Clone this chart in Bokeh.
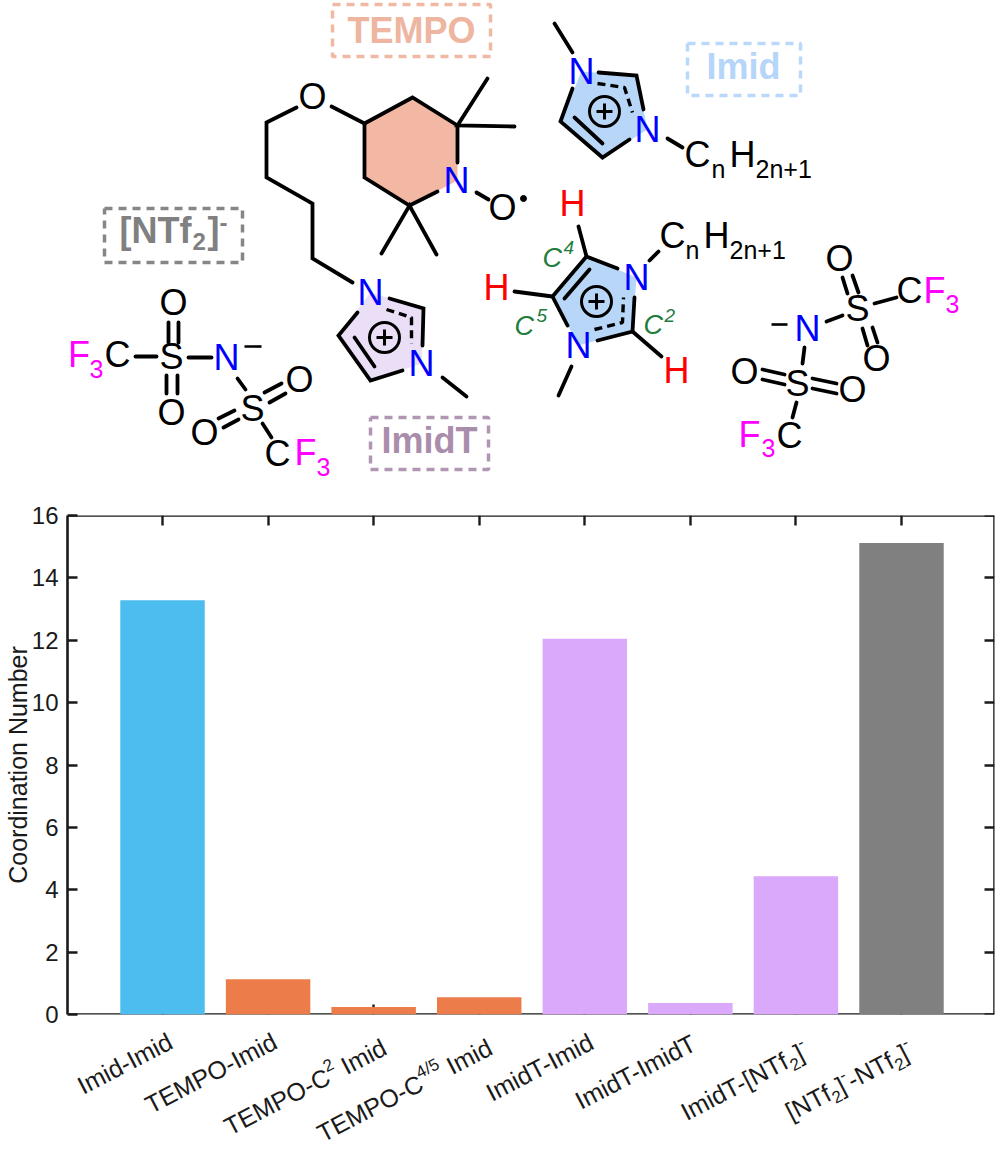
import math
from bokeh.embed import file_html
from bokeh.resources import INLINE
from bokeh.plotting import figure
from bokeh.layouts import column
from bokeh.models import LinearAxis, FixedTicker, Range1d
from bokeh.core.properties import value

# ---------- data ----------
categories = ["Imid-Imid", "TEMPO-Imid", "TEMPO-C2 Imid", "TEMPO-C4/5 Imid",
              "ImidT-Imid", "ImidT-ImidT", "ImidT-[NTf2]-", "[NTf2]--NTf2]-"]
coordination = [13.28, 1.13, 0.24, 0.55, 12.05, 0.37, 4.43, 15.12]
bar_colors = ["#4dbdf0", "#ec7c4a", "#ec7c4a", "#ec7c4a", "#dba9fb", "#dba9fb", "#dba9fb", "#808080"]
y_ticks = [0, 2, 4, 6, 8, 10, 12, 14, 16]
# rich tick labels: (text, kind) kind n=normal, u=superscript, d=subscript
rich_labels = [
    [("Imid-Imid", "n")],
    [("TEMPO-Imid", "n")],
    [("TEMPO-C", "n"), ("2", "u"), ("\u00a0Imid", "n")],
    [("TEMPO-C", "n"), ("4/5", "u"), ("\u00a0Imid", "n")],
    [("ImidT-Imid", "n")],
    [("ImidT-ImidT", "n")],
    [("ImidT-[NTf", "n"), ("2", "d"), ("]", "n"), ("-", "u")],
    [("[NTf", "n"), ("2", "d"), ("]", "n"), ("-", "u"), ("-NTf", "n"), ("2", "d"), ("]", "n"), ("-", "u")],
]
label_dx = [12, 11, 15, 15, 12, 9, 15, 14]
label_end_y = [1047, 1047, 1053, 1053, 1047, 1048, 1056, 1056]

FONT = "Liberation Sans"
H_TOP = 503
FRAME_W = 927
LEFT = 60
RIGHT = 5
FRAME_IMG_LEFT = 68
X_RANGE = (0.1, 8.881)

# ---------- structures panel (image pixel coordinates) ----------
top = figure(frame_width=FRAME_W, frame_height=H_TOP, x_range=Range1d(FRAME_IMG_LEFT, FRAME_IMG_LEFT + FRAME_W),
             y_range=Range1d(H_TOP, 0),
             output_backend="svg", toolbar_location=None, min_border=0, min_border_left=LEFT, min_border_right=RIGHT)
top.axis.visible = False
top.grid.visible = False
top.outline_line_color = None

fills = [
    ("#f3b8a4", [(365,123),(413,97),(458,125),(458,180),(410,205),(365,177)]),
    ("#eadff7", [(371,292),(424,308),(422,363),(371,380),(339,335)]),
    ("#b8d7f8", [(582,71),(637,75),(648,129),(603,157),(561,121)]),
    ("#b8d7f8", [(587,256),(637,277),(633,330),(579,345),(553,296)]),
]
for c, pts in fills:
    top.patch([a for a, _ in pts], [b for _, b in pts], fill_color=c, line_color=None)

# dashed label boxes
boxes = [
    (333, 491, 4, 56, "#efb9a4"),
    (105, 243, 208, 262, "#868686"),
    (371, 489, 417, 469, "#b096b2"),
    (688, 801, 43, 95, "#b9d8fa"),
]
for x0, x1, y0, y1, c in boxes:
    top.line([x0, x1, x1, x0, x0], [y0, y0, y1, y1, y0], line_color=c, line_width=3.5, line_dash="8 6")

bonds = [
    # TEMPO ring and chain
    [(458,162),(458,125),(413,97),(365,123),(365,177),(410,205),(438,191)],
    [(488,78),(458,125),(515,126)], [(382,253),(410,205),(437,254)],
    [(477,192),(489,199)],
    [(365,123),(332,106)],
    [(297,107),(267,122),(267,177),(313,203),(313,258),(353,282)],
    # ImidT ring
    [(390,298),(424,308),(423,345)],
    [(403,370),(371,380),(339,335),(358,312)],
    [(355,337),(375,366)],
    [(443,377),(467,396)],
    # left NTf2
    [(136,356),(157,356)], [(189,357),(212,357)],
    [(169,322),(169,342)], [(179,322),(179,342)],
    [(167,375),(167,393)], [(178,375),(178,393)],
    [(238,378),(246,389)],
    [(265,392),(282,383)], [(270,402),(286,393)],
    [(219,418),(235,410)], [(224,427),(239,419)],
    [(263,423),(272,437)],
    # upper Imid
    [(555,23),(573,52)],
    [(599,72),(637,75),(644,109)],
    [(630,139),(603,157),(561,121),(573,88)],
    [(575,117),(603,143)],
    [(668,138),(683,147)],
    # lower Imid
    [(579,226),(587,256),(618,268)],
    [(587,256),(553,296),(568,325)],
    [(565,298),(590,269)],
    [(598,340),(633,331),(635,297)],
    [(515,291),(553,296)],
    [(633,331),(662,356)],
    [(650,260),(659,251)],
    [(572,366),(559,395)],
    # right NTf2
    [(827,321),(843,315)], [(875,303),(897,297)],
    [(843,277),(848,293)], [(853,275),(859,292)],
    [(863,328),(868,345)], [(873,327),(878,342)],
    [(805,347),(803,363)],
    [(763,369),(785,374)], [(763,379),(785,384)],
    [(813,378),(837,383)], [(813,388),(837,393)],
    [(797,402),(793,417)],
]
top.multi_line([[a for a, _ in b] for b in bonds], [[v for _, v in b] for b in bonds],
               line_color="black", line_width=3.8, line_cap="round", line_join="miter")
thin = [[(245,346),(262,346)], [(772,324),(788,324)]]
top.multi_line([[a for a, _ in b] for b in thin], [[v for _, v in b] for b in thin],
               line_color="black", line_width=2.6)
dashed = [
    [(387,309),(412,317),(412,343)],
    [(598,83),(625,87),(633,112)],
    [(595,329),(623,322),(624,297)],
]
top.multi_line([[a for a, _ in b] for b in dashed], [[v for _, v in b] for b in dashed],
               line_color="black", line_width=3.4, line_dash="8 5")

# charge circles
for cx, cy in [(385,337), (605,111), (597,301)]:
    top.circle([cx], [cy], radius=15, radius_units="screen", fill_color=None, line_color="black", line_width=3)
    top.multi_line([[cx-8, cx+8], [cx, cx]], [[cy, cy], [cy-8, cy+8]], line_color="black", line_width=3)
top.scatter([524], [198], size=6, color="black")


def put(items, size, color, style="normal", align="center"):
    # items are given as text baselines; drawn through the vertical middle of the capitals
    top.text([i[0] for i in items], [i[1] - 0.36 * size for i in items], text=[i[2] for i in items],
             text_font=value(FONT), text_font_size=f"{size}px", text_color=color,
             text_font_style=style, text_align=align, text_baseline="middle")


def atoms(items, color, size=36):
    put([(x, y + 13, t) for x, y, t in items], size, color)


BLUE, RED, MAG, GREEN = "#0000ff", "#ff0000", "#ff00ff", "#1e7d3c"
atoms([(457,180,"N"), (371,292,"N"), (422,363,"N"), (227,357,"N"), (582,71,"N"),
       (648,129,"N"), (637,277,"N"), (579,345,"N"), (808,328,"N")], BLUE)
atoms([(313,96,"O"), (503,207,"O"), (174,302,"O"), (172,412,"O"), (300,379,"O"), (205,432,"O"),
       (840,258,"O"), (877,358,"O"), (745,371,"O"), (853,389,"O"),
       (172,356,"S"), (253,408,"S"), (858,308,"S"), (798,383,"S"),
       (118,354,"C"), (278,453,"C"), (790,435,"C"), (910,290,"C")], "black")
atoms([(573,203,"H"), (497,287,"H"), (677,370,"H")], RED)

put([(68.5,367,"F"), (295,465,"F"), (739,447,"F"), (924,303,"F")], 36, MAG, align="left")
put([(90,377,"3"), (317,475,"3"), (762,456,"3"), (946,312,"3")], 25, MAG, align="left")

put([(685,167,"C"), (730,167,"H"), (660,248,"C"), (704,248,"H")], 36, "black", align="left")
put([(712,177,"n"), (686,258,"n"), (756,177,"2n+1"), (730,258,"2n+1")], 25, "black", align="left")

put([(543,267,"C"), (515,335,"C"), (644,334,"C")], 27, GREEN, "italic", "left")
put([(564,254,"4"), (537,322,"5"), (665,322,"2")], 19, GREEN, "italic", "left")

put([(412,43,"TEMPO")], 36, "#eeb5a0", "bold")
put([(430,453,"ImidT")], 36, "#a98dab", "bold")
put([(744,79,"Imid")], 36, "#b5d5f9", "bold")
put([(120,243,"[NTf")], 36, "#808080", "bold", "left")
put([(193,250,"2")], 24, "#808080", "bold", "left")
put([(208,243,"]")], 36, "#808080", "bold", "left")
put([(220,231,"-")], 24, "#808080", "bold", "left")

# ---------- bar chart ----------
p = figure(frame_width=FRAME_W, frame_height=499, x_range=Range1d(*X_RANGE), y_range=Range1d(0, 16),
           output_backend="svg", toolbar_location=None,
           min_border_left=LEFT, min_border_right=RIGHT, min_border_top=12, min_border_bottom=13)
p.grid.visible = False
p.outline_line_color = None
xs = list(range(1, len(coordination) + 1))
p.vbar(x=xs, top=coordination, bottom=0, width=0.8, fill_color=bar_colors, line_color=None)

AX = "#1a1a1a"


def style(ax, ticks, labels=False):
    ax.ticker = FixedTicker(ticks=ticks)
    ax.axis_line_color = AX
    ax.axis_line_width = 2.6
    ax.major_tick_line_color = AX
    ax.major_tick_line_width = 2.4
    ax.major_tick_in = 10
    ax.major_tick_out = 0
    ax.minor_tick_line_color = None
    if not labels:
        ax.level = "underlay"
        ax.major_label_overrides = {t: "" for t in ticks}
        ax.major_label_standoff = 0


style(p.xaxis[0], xs)
style(p.yaxis[0], y_ticks, labels=True)
p.yaxis[0].major_label_text_font = FONT
p.yaxis[0].major_label_text_font_size = "24px"
p.yaxis[0].major_label_text_color = "#1a1a1a"
p.yaxis[0].major_label_standoff = 9
p.yaxis[0].axis_label = "Coordination Number"
p.yaxis[0].axis_label_text_font = FONT
p.yaxis[0].axis_label_text_font_style = "normal"
p.yaxis[0].axis_label_text_font_size = "25px"
p.yaxis[0].axis_label_text_color = "#1a1a1a"
p.yaxis[0].axis_label_standoff = -3

ra = LinearAxis(); style(ra, y_ticks); p.add_layout(ra, "right")
ta = LinearAxis(); style(ta, xs); p.add_layout(ta, "above")

# ---------- rich rotated tick labels, on the chart's own x scale ----------
LAB_TOP, LAB_BOTTOM = 1027, 1154
lab = figure(frame_width=FRAME_W, frame_height=LAB_BOTTOM - LAB_TOP, x_range=p.x_range,
             y_range=Range1d(LAB_BOTTOM, LAB_TOP), output_backend="svg", toolbar_location=None,
             min_border=0, min_border_left=LEFT, min_border_right=RIGHT)
lab.axis.visible = False
lab.grid.visible = False
lab.outline_line_color = None

AW = dict(zip("IimdTEMPOCNf[]-24/5\u00a0", [.278,.222,.833,.556,.611,.667,.833,.667,.778,.722,.722,.278,.278,.278,.333,.556,.556,.278,.556,.278]))
SIZE = 25
KIND = {"n": (1.0, 0.0), "u": (0.68, 0.46), "d": (0.68, -0.22)}
ANG_DEG = 27.5
ANG = math.radians(ANG_DEG)
for i, segs in enumerate(rich_labels):
    widths = [sum(AW.get(ch, .556) for ch in t) * SIZE * KIND[k][0] for t, k in segs]
    run = -sum(widths)
    for (t, k), w in zip(segs, widths):
        sc, rise = KIND[k]
        along, perp = run, rise * SIZE + 0.36 * SIZE * sc
        ox = label_dx[i] + along * math.cos(ANG) - perp * math.sin(ANG)
        oy = along * math.sin(ANG) + perp * math.cos(ANG)
        lab.text([xs[i]], [label_end_y[i] - oy], text=[t], x_offset=ox, angle=ANG_DEG, angle_units="deg",
                 text_font=value(FONT), text_font_size=f"{SIZE*sc:.1f}px", text_color="#1a1a1a",
                 text_align="left", text_baseline="middle")
        run += w

page = column(top, p, lab, spacing=0)
open("out.html", "w").write(file_html(page, INLINE))
